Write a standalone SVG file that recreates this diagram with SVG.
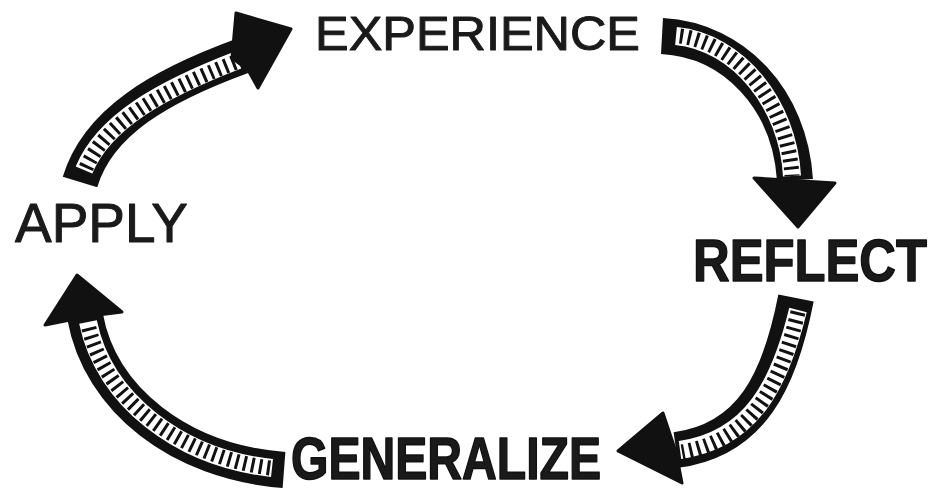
<svg xmlns="http://www.w3.org/2000/svg" width="938" height="493" viewBox="0 0 938 493">
<style>
.lbl{font-family:"Liberation Sans",Arial,sans-serif;fill:#1a1a1a;}
.thin{font-weight:normal;stroke:#1a1a1a;stroke-width:1;stroke-linejoin:round;}
.bold{font-weight:bold;stroke:#111;stroke-width:1.2;stroke-linejoin:round;}
.band{fill:none;stroke:#111;stroke-width:36;stroke-linecap:butt;}
.inner{fill:none;stroke:#fff;stroke-width:18;stroke-linecap:butt;}
.hatch{fill:none;stroke:#111;stroke-width:15;stroke-dasharray:3 5;stroke-linecap:butt;}
.head{fill:#111;stroke:#111;stroke-width:3;stroke-linejoin:round;}
</style>
<rect width="938" height="493" fill="#fff"/>
<g id="connectors">
  <g id="arrow-apply-experience">
    <path class="band" d="M80,182 C98,122 160,86 242,56"/>
    <path class="inner" d="M84,170 C104,122 160,90 238,60"/>
    <path class="hatch" d="M86,168 C106,122 160,92 236,62"/>
    <polygon class="head" points="236,13 291,29 258,88 248,70 232,58"/>
  </g>
  <g id="arrow-experience-reflect">
    <path class="band" d="M662,36 C735,40 790,100 795,180"/>
    <path class="inner" d="M676,36 C738,42 788,104 792,176"/>
    <path class="hatch" d="M680,36 C740,44 788,106 792,176"/>
    <polygon class="head" points="754,178 835,183 798,227"/>
  </g>
  <g id="arrow-reflect-generalize">
    <path class="band" d="M796,298 C780,380 752,440 676,450"/>
    <path class="inner" d="M798,310 C780,384 752,440 680,450"/>
    <path class="hatch" d="M798,312 C780,386 752,440 682,452"/>
    <polygon class="head" points="663,413 618,451 682,483 676,452"/>
  </g>
  <g id="arrow-generalize-apply">
    <path class="band" d="M284,470 C180,462 100,400 85,316"/>
    <path class="inner" d="M272,468 C180,458 104,400 88,322"/>
    <path class="hatch" d="M270,468 C180,456 104,400 88,324"/>
    <polygon class="head" points="77,275 45,325 90,316 122,312"/>
  </g>
</g>
<g id="experience"><text class="lbl thin" x="315" y="50" font-size="48" textLength="325" lengthAdjust="spacingAndGlyphs">EXPERIENCE</text></g>
<g id="apply"><text class="lbl thin" x="15" y="242" font-size="56" textLength="173" lengthAdjust="spacingAndGlyphs">APPLY</text></g>
<g id="reflect"><text class="lbl bold" transform="translate(693,281) scale(1,1.18)" x="0" y="0" font-size="50" textLength="234" lengthAdjust="spacingAndGlyphs">REFLECT</text></g>
<g id="generalize"><text class="lbl bold" transform="translate(291,479) scale(1,1.3)" x="0" y="0" font-size="46" textLength="310" lengthAdjust="spacingAndGlyphs">GENERALIZE</text></g>
</svg>
